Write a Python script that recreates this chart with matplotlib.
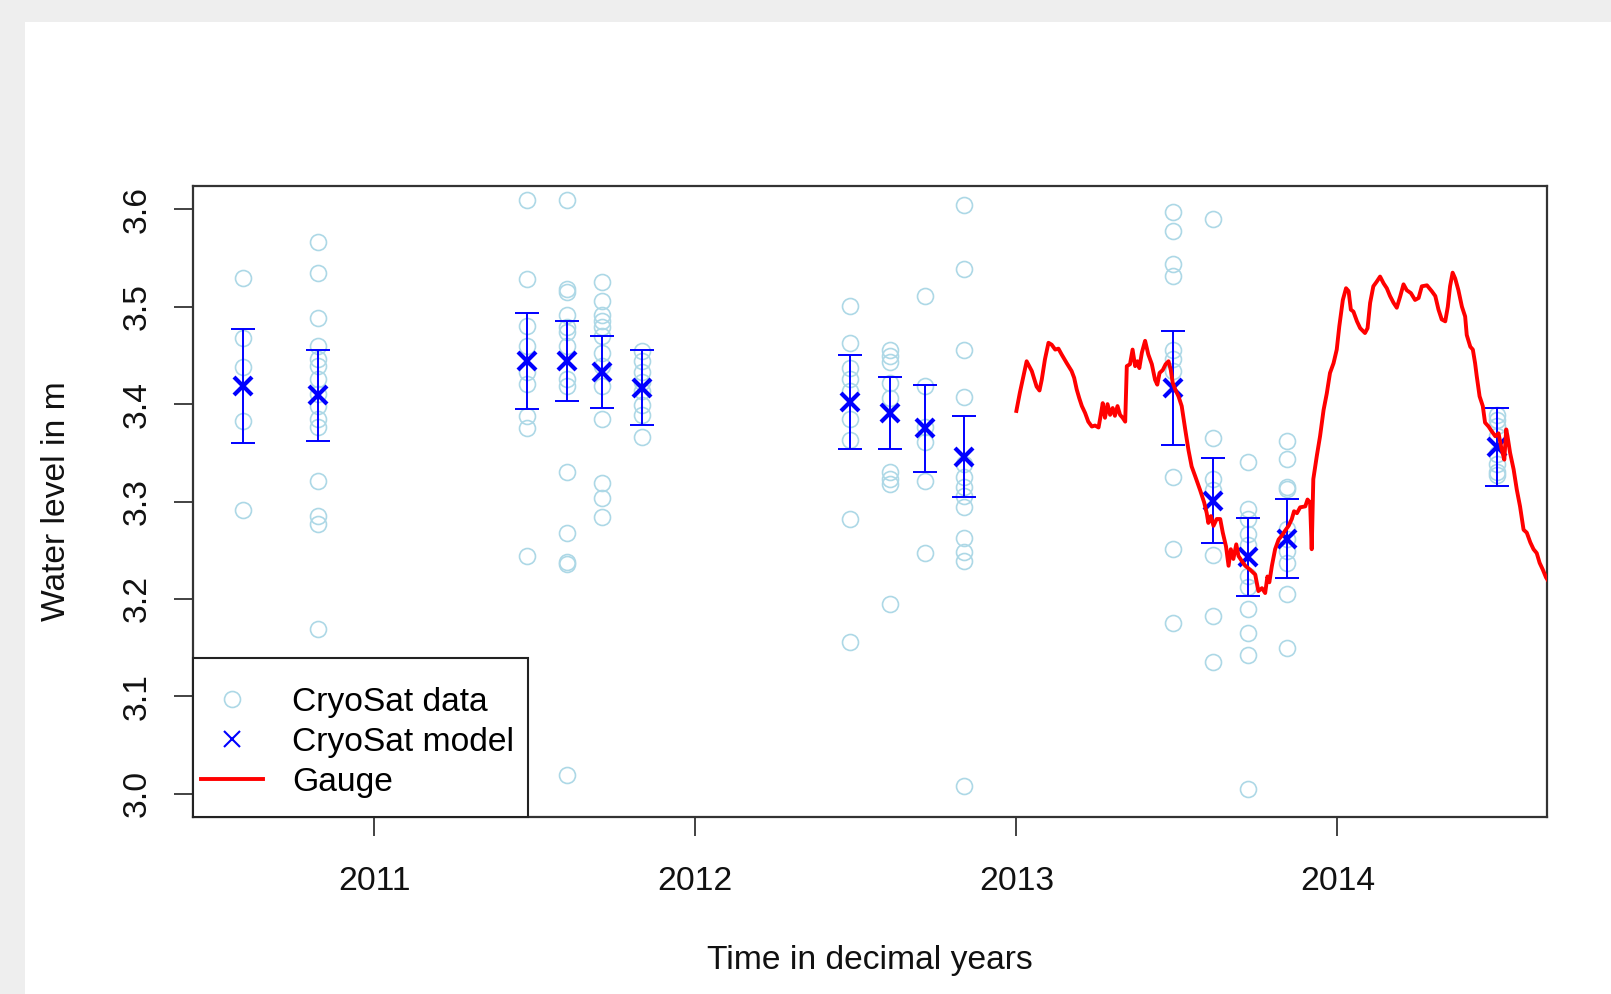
import matplotlib
matplotlib.use('Agg')
import matplotlib.pyplot as plt
from matplotlib.lines import Line2D
from matplotlib.patches import Rectangle

plt.rcParams['font.family'] = ['Liberation Sans', 'DejaVu Sans']
FS = 24.2

# CryoSat passes: time of each pass and the single heights measured on it
pass_times = [2010.592, 2010.825, 2011.475, 2011.599, 2011.708, 2011.833,
              2012.482, 2012.607, 2012.716, 2012.838, 2013.487, 2013.612,
              2013.720, 2013.844, 2014.497]
pass_heights = [
    [3.530, 3.468, 3.438, 3.383, 3.291],
    [3.567, 3.535, 3.488, 3.460, 3.446, 3.439, 3.426, 3.410, 3.398, 3.385, 3.376, 3.321, 3.285, 3.277, 3.169],
    [3.610, 3.528, 3.480, 3.460, 3.433, 3.421, 3.388, 3.375, 3.244],
    [3.610, 3.518, 3.515, 3.492, 3.479, 3.474, 3.460, 3.426, 3.419, 3.330, 3.268, 3.238, 3.236, 3.019],
    [3.525, 3.506, 3.492, 3.485, 3.479, 3.470, 3.453, 3.439, 3.419, 3.385, 3.319, 3.304, 3.284],
    [3.455, 3.444, 3.433, 3.423, 3.413, 3.399, 3.389, 3.366],
    [3.501, 3.463, 3.437, 3.426, 3.413, 3.385, 3.363, 3.282, 3.156],
    [3.456, 3.449, 3.443, 3.422, 3.406, 3.330, 3.323, 3.318, 3.195],
    [3.511, 3.419, 3.377, 3.361, 3.321, 3.247],
    [3.604, 3.539, 3.456, 3.407, 3.339, 3.325, 3.315, 3.306, 3.294, 3.263, 3.248, 3.239, 3.008],
    [3.597, 3.578, 3.544, 3.532, 3.456, 3.446, 3.434, 3.325, 3.251, 3.175],
    [3.590, 3.365, 3.323, 3.312, 3.245, 3.182, 3.135],
    [3.341, 3.292, 3.282, 3.267, 3.255, 3.224, 3.212, 3.190, 3.165, 3.142, 3.005],
    [3.362, 3.344, 3.315, 3.313, 3.272, 3.261, 3.249, 3.237, 3.205, 3.150],
    [3.389, 3.384, 3.378, 3.367, 3.349, 3.338, 3.330, 3.327],
]

# model estimate per pass and its standard deviation
model_level = [3.419, 3.409, 3.444, 3.444, 3.433, 3.417, 3.402, 3.391, 3.375,
               3.346, 3.417, 3.301, 3.243, 3.262, 3.356]
model_sd = [0.0585, 0.0465, 0.0495, 0.041, 0.0365, 0.0385, 0.048, 0.037, 0.045,
            0.0415, 0.0585, 0.0435, 0.040, 0.0405, 0.0405]

# in-situ gauge record
gauge_t = [2013.000, 2013.011, 2013.022, 2013.032, 2013.048, 2013.063, 2013.072, 2013.079, 2013.089, 2013.100,
           2013.110, 2013.121, 2013.131, 2013.141, 2013.157, 2013.172, 2013.180, 2013.188, 2013.196, 2013.204,
           2013.214, 2013.224, 2013.235, 2013.245, 2013.256, 2013.263, 2013.269, 2013.276, 2013.284, 2013.292,
           2013.300, 2013.307, 2013.315, 2013.323, 2013.331, 2013.339, 2013.344, 2013.354, 2013.362, 2013.370,
           2013.377, 2013.383, 2013.391, 2013.401, 2013.411, 2013.422, 2013.432, 2013.439, 2013.446, 2013.456,
           2013.465, 2013.474, 2013.481, 2013.487, 2013.495, 2013.505, 2013.515,
           2013.526, 2013.536, 2013.546, 2013.557, 2013.572, 2013.585, 2013.593, 2013.598, 2013.606, 2013.614,
           2013.624, 2013.635, 2013.643, 2013.653, 2013.661, 2013.668, 2013.676, 2013.685, 2013.692, 2013.702,
           2013.713, 2013.728, 2013.744, 2013.754, 2013.765, 2013.775, 2013.782, 2013.788, 2013.796, 2013.806,
           2013.817, 2013.827, 2013.837, 2013.848, 2013.858, 2013.865, 2013.874, 2013.884,
           2013.900, 2013.907, 2013.915, 2013.920, 2013.925, 2013.936, 2013.946, 2013.957, 2013.967, 2013.977,
           2013.988, 2013.998, 2014.006, 2014.017, 2014.027, 2014.035, 2014.042, 2014.050, 2014.061, 2014.071,
           2014.086, 2014.094, 2014.102, 2014.112, 2014.123, 2014.133, 2014.144, 2014.154, 2014.164, 2014.175,
           2014.185, 2014.196, 2014.206, 2014.216, 2014.229, 2014.242, 2014.253, 2014.263, 2014.279, 2014.294,
           2014.305, 2014.315, 2014.325, 2014.336, 2014.344, 2014.351, 2014.359, 2014.367, 2014.377, 2014.388,
           2014.398, 2014.403, 2014.414, 2014.422, 2014.429, 2014.434, 2014.443, 2014.453, 2014.460, 2014.471,
           2014.481, 2014.492, 2014.502, 2014.512, 2014.520, 2014.526, 2014.530, 2014.538, 2014.549, 2014.559,
           2014.569, 2014.580, 2014.590, 2014.601, 2014.611, 2014.621, 2014.630, 2014.640, 2014.650, 2014.658]
gauge_h = [3.393, 3.412, 3.429, 3.444, 3.434, 3.418, 3.414, 3.425, 3.446, 3.463,
           3.461, 3.456, 3.457, 3.451, 3.442, 3.434, 3.427, 3.415, 3.406, 3.398,
           3.391, 3.382, 3.377, 3.378, 3.376, 3.389, 3.401, 3.386, 3.400, 3.389,
           3.396, 3.388, 3.398, 3.389, 3.386, 3.382, 3.439, 3.441, 3.456, 3.439,
           3.444, 3.437, 3.453, 3.465, 3.451, 3.441, 3.425, 3.420, 3.432, 3.435,
           3.441, 3.444, 3.435, 3.422, 3.415, 3.408, 3.398,
           3.374, 3.353, 3.336, 3.326, 3.312, 3.299, 3.288, 3.278, 3.285, 3.275,
           3.282, 3.282, 3.268, 3.254, 3.234, 3.251, 3.241, 3.256, 3.244, 3.239,
           3.234, 3.230, 3.225, 3.208, 3.211, 3.206, 3.223, 3.217, 3.234, 3.251,
           3.261, 3.265, 3.270, 3.275, 3.282, 3.290, 3.288, 3.294,
           3.295, 3.302, 3.299, 3.251, 3.323, 3.347, 3.367, 3.394, 3.411, 3.432,
           3.442, 3.456, 3.480, 3.507, 3.519, 3.516, 3.497, 3.495, 3.485, 3.478,
           3.473, 3.478, 3.504, 3.521, 3.526, 3.531, 3.524, 3.519, 3.511, 3.504,
           3.499, 3.511, 3.523, 3.517, 3.514, 3.507, 3.509, 3.521, 3.522, 3.516,
           3.511, 3.497, 3.487, 3.485, 3.500, 3.521, 3.535, 3.529, 3.517, 3.500,
           3.490, 3.471, 3.459, 3.456, 3.442, 3.429, 3.408, 3.398, 3.381, 3.377,
           3.372, 3.367, 3.370, 3.353, 3.343, 3.374, 3.367, 3.350, 3.333, 3.312,
           3.295, 3.271, 3.268, 3.258, 3.251, 3.247, 3.237, 3.230, 3.222, 3.218]

year_ticks = [2011, 2012, 2013, 2014]
level_ticks = [3.0, 3.1, 3.2, 3.3, 3.4, 3.5, 3.6]

W, H = 1611, 994
fig = plt.figure(figsize=(W / 100, H / 100), dpi=100, facecolor='#eeeeee')
fig.add_artist(Rectangle((25 / W, 0), 1, 1 - 22 / H, transform=fig.transFigure,
                         facecolor='white', edgecolor='none', zorder=0))
ax = fig.add_axes([193 / W, 1 - 817 / H, 1354 / W, 631 / H])

for t, hs in zip(pass_times, pass_heights):
    ax.plot([t] * len(hs), hs, 'o', ms=11.5, mfc='none', mec='#add8e6', mew=1.2, zorder=2)

ax.errorbar(pass_times, model_level, yerr=model_sd, fmt='none', ecolor='#0000ff',
            elinewidth=1.4, capsize=8.5, capthick=1.4, zorder=3)
ax.plot(pass_times, model_level, 'x', color='#0000ff', ms=13, mew=3, zorder=4)
ax.plot(gauge_t, gauge_h, '-', color='#ff0000', lw=2.8, zorder=5)

ax.set_xlim(2010.435, 2014.653)
ax.set_ylim(2.976, 3.624)
ax.set_xticks(year_ticks)
ax.set_xticklabels([str(y) for y in year_ticks])
ax.set_yticks(level_ticks)
ax.set_yticklabels(['%.1f' % v for v in level_ticks])
ax.tick_params(axis='both', direction='out', length=14, width=1.2, color='#222222',
               labelsize=FS, labelcolor='#111111')
ax.tick_params(axis='x', pad=21.5)
ax.tick_params(axis='y', pad=15, labelrotation=90)
for lab in ax.get_yticklabels():
    lab.set_va('center')
for sp in ax.spines.values():
    sp.set_color('#333333')
    sp.set_linewidth(1.6)

fig.text(870 / W, 1 - 961 / H, 'Time in decimal years', ha='center', va='center',
         fontsize=FS, color='#111111')
fig.text(57 / W, 1 - 501 / H, 'Water level in m', ha='center', va='center',
         rotation=90, fontsize=FS, color='#111111')

# legend box in the lower left corner, frame drawn separately
ax.add_patch(Rectangle((193 / W, 1 - 817 / H), 335 / W, 159.5 / H, transform=fig.transFigure,
                       facecolor='white', edgecolor='#222222', lw=1.5, clip_on=False, zorder=6))
handles = [
    Line2D([], [], ls='none', marker='o', ms=11.5, mfc='none', mec='#add8e6', mew=1.2),
    Line2D([], [], ls='none', marker='x', ms=12, color='#0000ff', mew=1.5),
    Line2D([], [], color='#ff0000', lw=2.8),
]
leg = ax.legend(handles, ['CryoSat data', 'CryoSat model', 'Gauge'], loc='center left',
                bbox_to_anchor=(201 / W, 1 - 742.5 / H), bbox_transform=fig.transFigure,
                borderaxespad=0, borderpad=0, fontsize=FS, frameon=False,
                handlelength=1.85, handletextpad=0.86, labelspacing=0.27)
leg.set_zorder(7)

fig.savefig('out.png', dpi=100, facecolor=fig.get_facecolor())
